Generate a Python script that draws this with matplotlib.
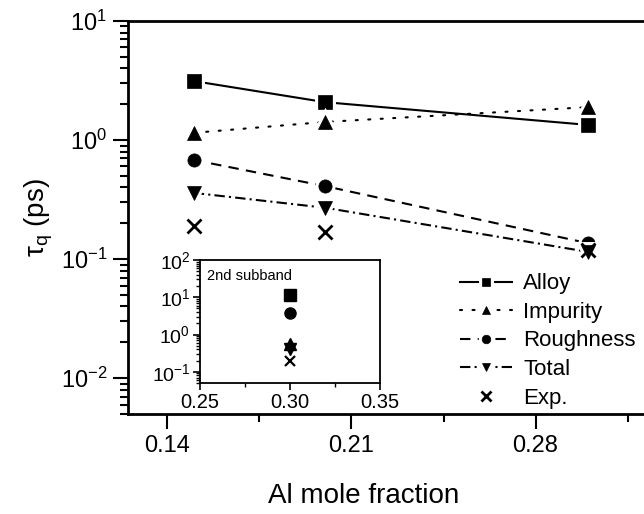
import matplotlib
matplotlib.use("Agg")
import matplotlib.pyplot as plt
from matplotlib.ticker import LogLocator, FixedLocator, NullFormatter, LogFormatterMathtext
from matplotlib.legend_handler import HandlerTuple

plt.rcParams['font.family'] = ['Liberation Sans', 'DejaVu Sans']
plt.rcParams['mathtext.fontset'] = 'custom'
plt.rcParams['mathtext.rm'] = 'Liberation Sans'
plt.rcParams['mathtext.it'] = 'Liberation Sans:italic'
plt.rcParams['mathtext.default'] = 'regular'
plt.rcParams['axes.unicode_minus'] = False

# ---- data ----
al_fraction = [0.15, 0.20, 0.30]
alloy = [3.13, 2.08, 1.34]
impurity = [1.15, 1.42, 1.89]
roughness = [0.68, 0.41, 0.136]
total = [0.36, 0.27, 0.115]
exp_vals = [0.19, 0.17, 0.12]

inset_x = [0.30]
inset_alloy = [11.3]
inset_impurity = [0.55]
inset_roughness = [3.7]
inset_total = [0.42]
inset_exp = [0.19]

labels = ["Alloy", "Impurity", "Roughness", "Total", "Exp."]
main_xticks = [0.14, 0.21, 0.28]
main_xticklabels = ["0.14", "0.21", "0.28"]
inset_xticks = [0.25, 0.30, 0.35]
inset_xticklabels = ["0.25", "0.30", "0.35"]

fig = plt.figure(figsize=(6.44, 5.14), dpi=100)
ax = fig.add_axes([128/644, 100/514, 539/644, 393/514])

lw = 1.5
styles = [
    ('s', '-'),
    ('^', (0, (1, 5))),
    ('o', (0, (5, 3.5))),
    ('v', (0, (5, 2, 1, 2))),
]
series = [alloy, impurity, roughness, total]
handles = []
for (mk, ls), ys in zip(styles, series):
    ln, = ax.plot(al_fraction, ys, ls=ls, color='black', lw=lw,
                  dash_capstyle='round' if mk == '^' else 'butt')
    wm, = ax.plot(al_fraction, ys, ls='none', marker=mk, ms=9.5, color='white', mec='white', mew=5)
    bm, = ax.plot(al_fraction, ys, ls='none', marker=mk, ms=9.5, color='black', mec='black', mew=0.5)
    handles.append((ln, wm, bm))
xm, = ax.plot(al_fraction, exp_vals, ls='none', marker='x', ms=10, color='black', mew=2)
handles.append(xm)

ax.set_yscale('log')
ax.set_ylim(0.005, 10)
ax.set_xlim(0.125, 0.33)
ax.set_xticks(main_xticks)
ax.set_xticklabels(main_xticklabels)
ax.xaxis.set_minor_locator(FixedLocator([0.175, 0.245, 0.315]))
ax.yaxis.set_major_locator(LogLocator(base=10, numticks=10))
ax.yaxis.set_minor_locator(LogLocator(base=10, subs=range(2, 10), numticks=20))
ax.yaxis.set_minor_formatter(NullFormatter())
ax.yaxis.set_major_formatter(LogFormatterMathtext())
ax.tick_params(which='major', direction='out', length=11, width=1.5, labelsize=17, pad=4)
ax.tick_params(which='minor', direction='out', length=6, width=1.5)
for s in ['left', 'bottom', 'top']:
    ax.spines[s].set_linewidth(2)
ax.spines['right'].set_visible(False)

ax.set_ylabel(r'$\tau_q$ (ps)', fontsize=20)
ax.yaxis.set_label_coords(-0.135, 0.5)
ax.set_xlabel('Al mole fraction', fontsize=20)
ax.xaxis.set_label_coords((364 - 128) / 539, -0.175)

leg = ax.legend(handles, labels, loc='upper left', bbox_to_anchor=(0.616, 0.358),
                frameon=False, fontsize=16, handlelength=2.35, handletextpad=0.5,
                labelspacing=0.34, borderaxespad=0, borderpad=0, markerscale=0.65,
                handler_map={tuple: HandlerTuple(ndivide=1)})

# ---- inset ----
axi = fig.add_axes([200/644, 131/514, 180/644, 123/514])
axi.plot(inset_x, inset_alloy, ls='none', marker='s', ms=8, color='black')
axi.plot(inset_x, inset_roughness, ls='none', marker='o', ms=8, color='black')
axi.plot(inset_x, inset_impurity, ls='none', marker='^', ms=8, color='black')
axi.plot(inset_x, inset_total, ls='none', marker='v', ms=8, color='black')
axi.plot(inset_x, inset_exp, ls='none', marker='x', ms=7, color='black', mew=1.6)
axi.set_yscale('log')
axi.set_ylim(0.05, 100)
axi.set_xlim(0.25, 0.35)
axi.set_xticks(inset_xticks)
axi.set_xticklabels(inset_xticklabels)
axi.xaxis.set_minor_locator(FixedLocator([0.275, 0.325]))
axi.yaxis.set_major_locator(LogLocator(base=10, numticks=10))
axi.yaxis.set_minor_locator(LogLocator(base=10, subs=range(2, 10), numticks=20))
axi.yaxis.set_minor_formatter(NullFormatter())
axi.yaxis.set_major_formatter(LogFormatterMathtext())
axi.tick_params(axis='x', which='major', direction='out', length=5, width=1.2, labelsize=14.5, pad=2)
axi.tick_params(axis='y', which='major', direction='out', length=5, width=1.2, labelsize=14, pad=2)
axi.tick_params(which='minor', direction='out', length=3, width=1.0)
for s in axi.spines.values():
    s.set_linewidth(1.3)
axi.text(0.04, 0.93, '2nd subband', transform=axi.transAxes, fontsize=10.5, va='top', ha='left')

fig.savefig('out.png', dpi=100)
